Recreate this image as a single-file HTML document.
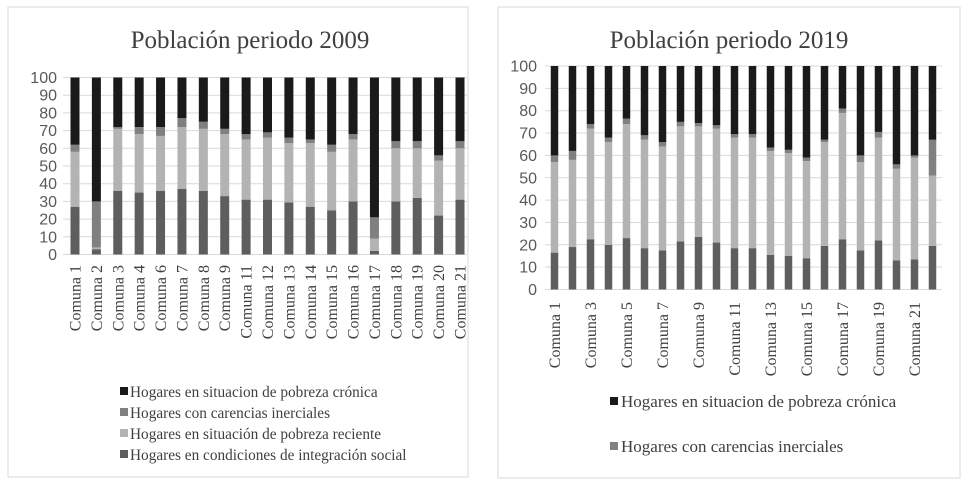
<!DOCTYPE html>
<html><head><meta charset="utf-8"><style>
html,body{margin:0;padding:0;background:#fff;}
svg{display:block;}
</style></head><body>
<svg width="969" height="484" xmlns="http://www.w3.org/2000/svg">
<rect x="8" y="7" width="460" height="470" fill="#fff" stroke="#d9d9d9"/>
<rect x="498" y="7" width="462" height="471" fill="#fff" stroke="#d9d9d9"/>
<text x="250" y="48" text-anchor="middle" font-family="Liberation Serif, serif" font-size="25" fill="#404040">Población periodo 2009</text>
<text x="729" y="48" text-anchor="middle" font-family="Liberation Serif, serif" font-size="25" fill="#404040">Población periodo 2019</text>
<g id="c1"></g><g id="c2"></g>
<g font-family="Liberation Serif, serif" font-size="15.3" fill="#404040">
<rect x="120" y="387" width="8" height="8" fill="#1a1a1a"/><text x="130" y="397">Hogares en situacion de pobreza crónica</text>
<rect x="120" y="408" width="8" height="8" fill="#808080"/><text x="130" y="418">Hogares con carencias inerciales</text>
<rect x="120" y="429" width="8" height="8" fill="#b3b3b3"/><text x="130" y="439">Hogares en situación de pobreza reciente</text>
<rect x="120" y="450" width="8" height="8" fill="#5e5e5e"/><text x="130" y="460">Hogares en condiciones de integración social</text>
</g>
<g font-family="Liberation Serif, serif" font-size="17" fill="#404040">
<rect x="610" y="397" width="8" height="8" fill="#1a1a1a"/><text x="621" y="407">Hogares en situacion de pobreza crónica</text>
<rect x="610" y="442" width="8" height="8" fill="#808080"/><text x="621" y="452">Hogares con carencias inerciales</text>
</g>
</svg>
<script>
const cats2009 = ["Comuna 1","Comuna 2","Comuna 3","Comuna 4","Comuna 6","Comuna 7","Comuna 8","Comuna 9","Comuna 11","Comuna 12","Comuna 13","Comuna 14","Comuna 15","Comuna 16","Comuna 17","Comuna 18","Comuna 19","Comuna 20","Comuna 21"];
const social2009 = [27,3,36,35,36,37,36,33,31,31,29.5,27,25,30,2,30,32,22,31];
const reciente2009 = [31,1,35,33,31,35,35,35,34,35,33.5,36,33,35,7,30,28,31,29];
const inercial2009 = [4,26,1,4,5,5,4,3,3,3,3,2,4,3,12,4,4,3,4];
const cronica2009 = [38,70,28,28,28,23,25,29,32,31,34,35,38,32,79,36,36,44,36];
const cats2019 = ["Comuna 1","Comuna 2","Comuna 3","Comuna 4","Comuna 5","Comuna 6","Comuna 7","Comuna 8","Comuna 9","Comuna 10","Comuna 11","Comuna 12","Comuna 13","Comuna 14","Comuna 15","Comuna 16","Comuna 17","Comuna 18","Comuna 19","Comuna 20","Comuna 21","Comuna 22"];
const social2019 = [16.5,19,22.5,20,23,18.5,17.5,21.5,23.5,21,18.5,18.5,15.5,15,14,19.5,22.5,17.5,22,13,13.5,19.5];
const reciente2019 = [40.5,39,49.5,46,51,48.5,46.5,51.5,49.5,51,49.5,49.5,46.5,46,43.5,46.5,56.5,39.5,46,41,45.5,31.5];
const inercial2019 = [3,4,2,2,2.5,2,2,2,1.5,1.5,1.5,1.5,1.5,1.5,1.5,1,2,3,2.5,2,1,16];
const cronica2019 = [40,38,26,32,23.5,31,34,25,25.5,26.5,30.5,30.5,36.5,37.5,41,33,19,40,29.5,44,40,33];
const yTicks = [0,10,20,30,40,50,60,70,80,90,100];

const NS='http://www.w3.org/2000/svg';
function mk(parent,tag,attrs){const e=document.createElementNS(NS,tag);for(const k in attrs)e.setAttribute(k,attrs[k]);parent.appendChild(e);return e;}

function draw(gid,o){
  const g=document.getElementById(gid);
  const y=v=>o.y0+(o.y100-o.y0)*v/100;
  const x=i=>o.xFirst+i*(o.xLast-o.xFirst)/(o.cats.length-1);
  yTicks.forEach(t=>{
    const l=mk(g,'line',{x1:o.gx1,x2:o.gx2,y1:y(t),y2:y(t),stroke:'#d9d9d9','stroke-width':1});
    
    
    const tx=mk(g,'text',{x:o.tickX,y:y(t)+5.5,'text-anchor':'end','font-family':'Liberation Sans, sans-serif','font-size':16,fill:'#595959'});
    tx.textContent=t;
    
    
  });
  const series=[[o.s,'#5e5e5e','social'],[o.r,'#b3b3b3','reciente'],[o.i,'#808080','inercial'],[o.c,'#1a1a1a','cronica']];
  o.cats.forEach((c,k)=>{
    let acc=0;
    series.forEach(([arr,col,nm])=>{
      const v=arr[k];
      const r=mk(g,'rect',{x:x(k)-o.bw/2,y:y(acc+v),width:o.bw,height:Math.max(0,y(acc)-y(acc+v)),fill:col});
      
      
      acc+=v;
    });
    if(k%o.labelEvery===0){
      const t=mk(g,'text',{transform:`translate(${x(k)+5.5},${o.labelY}) rotate(-90)`,'text-anchor':'end','font-family':'Liberation Serif, serif','font-size':o.lfs,fill:'#404040'});
      t.textContent=c;
      
      
    }
  });
}
draw('c1',{cats:cats2009,s:social2009,r:reciente2009,i:inercial2009,c:cronica2009,y0:254.5,y100:77.5,xFirst:75,xLast:460,bw:9,gx1:63,gx2:467,tickX:57,labelY:265,lfs:16,labelEvery:1});
draw('c2',{cats:cats2019,s:social2019,r:reciente2019,i:inercial2019,c:cronica2019,y0:289.5,y100:66,xFirst:554.5,xLast:932.5,bw:7.5,gx1:545,gx2:942,tickX:537,labelY:302,lfs:16,labelEvery:2});
</script>
</body></html>
